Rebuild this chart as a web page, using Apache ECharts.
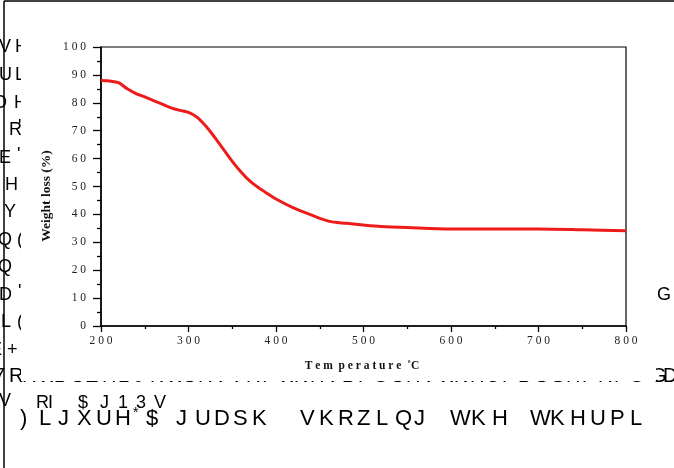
<!DOCTYPE html>
<html>
<head>
<meta charset="utf-8">
<script src="https://cdn.jsdelivr.net/npm/echarts@6/dist/echarts.min.js"></script>
<style>
  html, body { margin: 0; padding: 0; background: #fff; }
  #tga { width: 674px; height: 468px; }
</style>
</head>
<body>
<div id="tga"></div>
<script>
// TGA curve
var temperature = [200, 210, 220, 230, 240, 250, 260, 270, 280, 290, 300, 310, 320, 330, 340, 350,
  360, 370, 380, 390, 400, 420, 440, 460, 480, 500, 520, 550, 600, 650, 700, 750, 800];
var weightLoss = [88, 87.8, 87.2, 85, 83.3, 82.1, 80.8, 79.5, 78.2, 77.3, 76.6, 74.8, 71.6, 67.6, 63.3, 59,
  55.2, 52, 49.6, 47.5, 45.5, 42.3, 39.8, 37.6, 36.8, 36.2, 35.7, 35.3, 34.8, 34.8, 34.8, 34.5, 34.1];

// garbled page text around the pasted figure: [glyph, x, y]
var sideGlyphs = [
  ["V", -1, 47], ["H", 15, 47],
  ["U", -1, 75], ["L", 15, 75],
  ["O", -7, 103], ["H", 14, 103],
  ["R", 9, 130], ["'", 18, 127],
  ["E", -1, 158], ["'", 17, 155],
  ["H", 5, 185],
  ["Y", 4, 212],
  ["Q", -2, 240], ["(", 17, 240],
  ["Q", -2, 267],
  ["D", -1, 295], ["'", 18, 292],
  ["L", 1, 322], ["(", 17, 322],
  ["E", -10, 350], ["+", 7, 350],
  ["V", -1, 401],
  ["G", 657, 295]
];
// [word, x start, center y, pitch, font size]
var pageWords = [
  ["7R", -6, 376, 15, 20],
  ["RWDOZHLJKWORVVRIWKHVDPSOHVWKHUPDOGHFRPS", 22, 376.6, 16, 20],
  ["GD", 651, 376, 12, 20],
  ["RI", 36, 403, 12, 18],
  ["$", 78, 403, 12, 18],
  ["J13V", 100, 403, 18, 18],
  [")LJXUH", 20, 419, 19, 22],
  ["*", 133, 413, 10, 14],
  ["$", 146, 419, 12, 22],
  ["JUDSK", 176, 419, 19, 22],
  ["VKRZLQJ", 300, 419, 19, 22],
  ["WKH", 450, 419, 21, 22],
  ["WKHUPL", 530, 419, 20, 22]
];

var spaced = function (s) { return String(s).split("").join(" "); };

var graphics = [];
sideGlyphs.forEach(function (g) {
  graphics.push({ type: "text", x: g[1], y: g[2], z: -3,
    style: { text: g[0], font: "18px 'Liberation Sans'", fill: "#000", align: "left", verticalAlign: "middle" } });
});
pageWords.forEach(function (w) {
  w[0].split("").forEach(function (ch, i) {
    graphics.push({ type: "text", x: w[1] + i * w[3], y: w[2], z: -3,
      style: { text: ch, font: w[4] + "px 'Liberation Sans'", fill: "#000", align: "left", verticalAlign: "middle" } });
  });
});
// white figure box hiding the text beneath it
graphics.push({ type: "rect", z: -2, shape: { x: 21, y: 2, width: 635, height: 379 }, style: { fill: "#fff" } });
// page frame
graphics.push({ type: "line", z: 10, shape: { x1: 4, y1: 1, x2: 674, y2: 1 }, style: { stroke: "#000", lineWidth: 1.5 } });
graphics.push({ type: "line", z: 10, shape: { x1: 4, y1: 1, x2: 4, y2: 468 }, style: { stroke: "#000", lineWidth: 1.5 } });
// axis titles
graphics.push({ type: "text", x: 47, y: 196, rotation: Math.PI / 2, z: 10,
  style: { text: "Weight loss (%)", font: "bold 13.5px 'Liberation Serif'", fill: "#111", align: "center", verticalAlign: "middle" } });
graphics.push({ type: "text", x: 362, y: 366, z: 10,
  style: { text: "T e m  p e r a t u r e  \u02DAC", font: "bold 11.5px 'Liberation Serif'", fill: "#111", align: "center", verticalAlign: "middle" } });

var myChart = echarts.init(document.getElementById("tga"));

var option = {
  animation: false,
  grid: {
    left: 101, top: 47, width: 525, height: 279,
    show: true, borderColor: "#000", borderWidth: 1.2, backgroundColor: "transparent"
  },
  xAxis: {
    type: "value", min: 200, max: 800, interval: 100,
    axisLine: { lineStyle: { color: "#000", width: 1.5 } },
    axisTick: { length: 6, lineStyle: { color: "#000", width: 1.3 } },
    minorTick: { show: true, splitNumber: 2, length: 3, lineStyle: { color: "#000", width: 1.3 } },
    splitLine: { show: false },
    axisLabel: { margin: 9, color: "#222", fontFamily: "Liberation Serif", fontSize: 11.5, formatter: spaced }
  },
  yAxis: {
    type: "value", min: 0, max: 100, interval: 10,
    axisLine: { show: true, lineStyle: { color: "#000", width: 1.5 } },
    axisTick: { show: true, length: 8, lineStyle: { color: "#000", width: 1.3 } },
    minorTick: { show: true, splitNumber: 2, length: 4, lineStyle: { color: "#000", width: 1.3 } },
    splitLine: { show: false },
    axisLabel: { margin: 15, color: "#222", fontFamily: "Liberation Serif", fontSize: 11.5, formatter: spaced }
  },
  graphic: graphics,
  series: [
    {
      type: "line",
      smooth: 0.3,
      showSymbol: false,
      data: temperature.map(function (t, i) { return [t, weightLoss[i]]; }),
      lineStyle: { color: "#ee1b1b", width: 3 },
      itemStyle: { color: "#ee1b1b" }
    }
  ]
};
myChart.setOption(option);
</script>
</body>
</html>
